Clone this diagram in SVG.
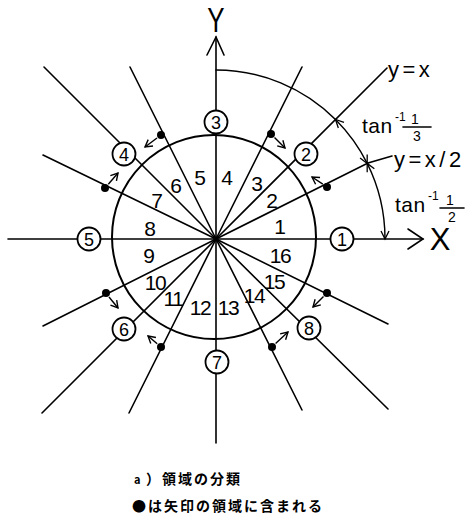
<svg xmlns="http://www.w3.org/2000/svg" width="465" height="516" viewBox="0 0 465 516">
<style>
.ln{stroke:#000;stroke-width:1.6;fill:none;stroke-linecap:round}
.ar{stroke:#000;stroke-width:1.4;fill:none}
.nc{fill:#fff;stroke:#000;stroke-width:1.8}
.nt{font-family:"Liberation Sans",Arial,sans-serif;font-size:18px;text-anchor:middle;fill:#000}
.rg{font-family:"Liberation Sans",Arial,sans-serif;font-size:21px;text-anchor:middle;fill:#000}
.rg2{letter-spacing:-1.5px}
.lb{font-family:"Liberation Sans",Arial,sans-serif;fill:#000}
.cap{font-family:"Noto Sans CJK JP","Noto Sans CJK SC",sans-serif;font-size:14px;font-weight:bold;fill:#000;letter-spacing:2px}
.dot{fill:#000}
</style>
<defs>
<marker id="v" markerUnits="userSpaceOnUse" orient="auto-start-reverse" overflow="visible" refX="0" refY="0" markerWidth="20" markerHeight="20">
<path d="M-8,-4 L0,0 L-8,4" fill="none" stroke="#000" stroke-width="1.3"/>
</marker>
<marker id="sa" markerUnits="userSpaceOnUse" orient="auto" overflow="visible" refX="0" refY="0" markerWidth="20" markerHeight="20">
<path d="M-7,-4 L0,0 L-7,4" fill="none" stroke="#000" stroke-width="1.4"/>
</marker>
</defs>
<rect width="465" height="516" fill="#fff"/>
<g id="connectors">
<circle cx="214" cy="237" r="102" fill="none" stroke="#000" stroke-width="2"/>
<line class="ln" x1="8" y1="239" x2="423" y2="239"/>
<line class="ln" x1="216" y1="239" x2="216" y2="37"/>
<line class="ln" x1="216" y1="239" x2="216" y2="443"/>
<polyline class="ln" points="207,55 216,37 224,55"/>
<polyline class="ln" points="408,229 423,239 408,249"/>
<polyline class="ln" points="216,239 368,163 392,156"/>
<line class="ln" x1="216" y1="239" x2="387" y2="68"/>
<line class="ln" x1="216" y1="239" x2="302" y2="67"/>
<line class="ln" x1="216" y1="239" x2="130" y2="67"/>
<line class="ln" x1="216" y1="239" x2="44" y2="67"/>
<line class="ln" x1="216" y1="239" x2="43" y2="155"/>
<line class="ln" x1="216" y1="239" x2="43" y2="326"/>
<line class="ln" x1="216" y1="239" x2="42" y2="413"/>
<line class="ln" x1="216" y1="239" x2="129" y2="413"/>
<line class="ln" x1="216" y1="239" x2="302" y2="410"/>
<line class="ln" x1="216" y1="239" x2="388" y2="409"/>
<line class="ln" x1="216" y1="239" x2="388" y2="324"/>
<circle cx="216" cy="239" r="2.5" class="dot"/>
<path class="ln" d="M216,70 A169,169 0 0 1 335.5,119.5"/>
<path class="ar" d="M335.5,119.5 A169,169 0 0 1 367.2,163.4" marker-start="url(#v)" marker-end="url(#v)"/>
<path class="ar" d="M367.2,163.4 A169,169 0 0 1 385,239" marker-start="url(#v)" marker-end="url(#v)"/>
<g id="dots">
<circle class="dot" cx="161" cy="135" r="4"/>
<circle class="dot" cx="271" cy="134" r="4"/>
<circle class="dot" cx="105" cy="188" r="4"/>
<circle class="dot" cx="327" cy="187" r="4"/>
<circle class="dot" cx="106" cy="293" r="4"/>
<circle class="dot" cx="327" cy="293" r="4"/>
<circle class="dot" cx="161" cy="347" r="4"/>
<circle class="dot" cx="272" cy="347" r="4"/>
</g>
<g id="small-arrows">
<line class="ar" x1="157" y1="138" x2="145" y2="147" marker-end="url(#sa)"/>
<line class="ar" x1="274.5" y1="137.5" x2="285" y2="148" marker-end="url(#sa)"/>
<line class="ar" x1="108.3" y1="184.2" x2="118" y2="173" marker-end="url(#sa)"/>
<line class="ar" x1="322.8" y1="184.2" x2="312" y2="177" marker-end="url(#sa)"/>
<line class="ar" x1="109" y1="297" x2="118" y2="308" marker-end="url(#sa)"/>
<line class="ar" x1="323.5" y1="296.5" x2="313" y2="307" marker-end="url(#sa)"/>
<line class="ar" x1="157.2" y1="343.8" x2="148" y2="336" marker-end="url(#sa)"/>
<line class="ar" x1="275.6" y1="343.6" x2="288" y2="332" marker-end="url(#sa)"/>
</g>
<line class="ln" x1="403" y1="127" x2="431" y2="127"/>
<line class="ln" x1="440" y1="208" x2="464" y2="208"/>
</g>
<g id="node1"><circle class="nc" cx="342" cy="239" r="11.5"/><text class="nt" x="342" y="245.5">1</text></g>
<g id="node2"><circle class="nc" cx="306" cy="154" r="11.5"/><text class="nt" x="306" y="160.5">2</text></g>
<g id="node3"><circle class="nc" cx="216" cy="122" r="11.5"/><text class="nt" x="216" y="128.5">3</text></g>
<g id="node4"><circle class="nc" cx="124" cy="154" r="11.5"/><text class="nt" x="124" y="160.5">4</text></g>
<g id="node5"><circle class="nc" cx="89" cy="239" r="11.5"/><text class="nt" x="89" y="245.5">5</text></g>
<g id="node6"><circle class="nc" cx="124" cy="329" r="11.5"/><text class="nt" x="124" y="335.5">6</text></g>
<g id="node7"><circle class="nc" cx="217" cy="362" r="11.5"/><text class="nt" x="217" y="368.5">7</text></g>
<g id="node8"><circle class="nc" cx="309" cy="328" r="11.5"/><text class="nt" x="309" y="334.5">8</text></g>
<g id="regions">
<text class="rg" x="280" y="234">1</text>
<text class="rg" x="272" y="208">2</text>
<text class="rg" x="257" y="191">3</text>
<text class="rg" x="227" y="185">4</text>
<text class="rg" x="200" y="185">5</text>
<text class="rg" x="176" y="193">6</text>
<text class="rg" x="157" y="208">7</text>
<text class="rg" x="150" y="236">8</text>
<text class="rg" x="149" y="263">9</text>
<text class="rg rg2" x="155" y="290">10</text>
<text class="rg rg2" x="173" y="306">11</text>
<text class="rg rg2" x="200" y="315">12</text>
<text class="rg rg2" x="228" y="315">13</text>
<text class="rg rg2" x="254" y="303">14</text>
<text class="rg rg2" x="274" y="289">15</text>
<text class="rg rg2" x="280" y="263">16</text>
</g>
<g id="labels">
<text class="lb" transform="translate(216,32) scale(0.72,1)" font-size="36" text-anchor="middle">Y</text>
<text class="lb" x="440" y="250" font-size="31" text-anchor="middle">X</text>
<text class="lb" x="388" y="77" font-size="22" letter-spacing="3.5">y=x</text>
<text class="lb" x="394" y="167" font-size="22" letter-spacing="3.5">y=x/2</text>
<text class="lb" x="362" y="133" font-size="21" letter-spacing="0.5">tan</text>
<text class="lb" x="395" y="121" font-size="12">-1</text>
<text class="lb" x="415" y="124" font-size="14" text-anchor="middle">1</text>
<text class="lb" x="417" y="141" font-size="14" text-anchor="middle">3</text>
<text class="lb" x="395" y="212" font-size="21" letter-spacing="0.5">tan</text>
<text class="lb" x="428" y="200" font-size="12">-1</text>
<text class="lb" x="450" y="205" font-size="14" text-anchor="middle">1</text>
<text class="lb" x="452" y="222" font-size="14" text-anchor="middle">2</text>
</g>
<g id="caption">
<text class="cap" x="134" y="484"><tspan font-size="11px">a</tspan><tspan x="146">）</tspan><tspan x="162">領域の分類</tspan></text>
<text class="cap" x="132" y="511">●は矢印の領域に含まれる</text>
</g>
</svg>
